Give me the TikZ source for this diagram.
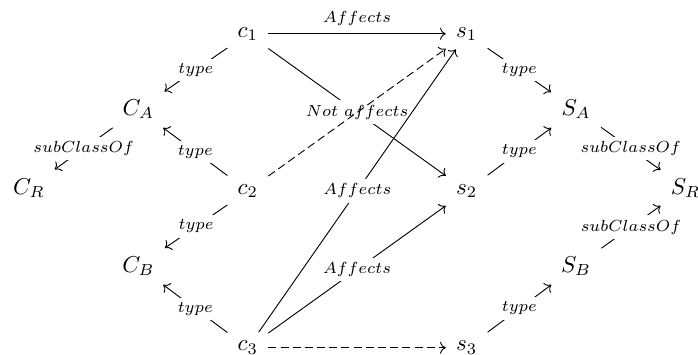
\documentclass[tikz,border=0pt]{standalone}
\usepackage{amsmath,amssymb}
\usepackage{tikz}
\usetikzlibrary{arrows.meta,positioning}

\begin{document}
\begin{tikzpicture}[
  x=1.673cm, y=1.2cm,
  >={To},
  obj/.style={anchor=base, inner xsep=1ex, inner ysep=0.85ex},
  rel/.style={->, line width=0.4pt},
  maybe/.style={rel, dash pattern=on 3.5pt off 1.8pt},
  lbl/.style={fill=white, inner sep=2pt, font=\scriptsize},
]
\useasboundingbox (-0.265,0.472) rectangle (6.114,-4.039);
% classes of causes
\node[obj] (CR) at (0,-2) {$C_R$};
\node[obj] (CA) at (1,-1) {$C_A$};
\node[obj] (CB) at (1,-3) {$C_B$};
% causes
\node[obj] (c1) at (2,0) {$c_1$};
\node[obj] (c2) at (2,-2) {$c_2$};
\node[obj] (c3) at (2,-4) {$c_3$};
% symptoms
\node[obj] (s1) at (4,0) {$s_1$};
\node[obj] (s2) at (4,-2) {$s_2$};
\node[obj] (s3) at (4,-4) {$s_3$};
% classes of symptoms
\node[obj] (SA) at (5,-1) {$S_A$};
\node[obj] (SB) at (5,-3) {$S_B$};
\node[obj] (SR) at (6,-2) {$S_R$};

% type links
\draw[rel] (c1) -- node[lbl] {$type$} (CA);
\draw[rel] (c2) -- node[lbl] {$type$} (CA);
\draw[rel] (c2) -- node[lbl] {$type$} (CB);
\draw[rel] (c3) -- node[lbl] {$type$} (CB);
\draw[rel] (s1) -- node[lbl] {$type$} (SA);
\draw[rel] (s2) -- node[lbl] {$type$} (SA);
\draw[rel] (s3) -- node[lbl] {$type$} (SB);
% subclass links
\draw[rel] (CA) -- node[lbl] {$subClassOf$} (CR);
\draw[rel] (SA) -- node[lbl] {$subClassOf$} (SR);
\draw[rel] (SB) -- node[lbl] {$subClassOf$} (SR);

% effects
\draw[rel] (c1) -- node[above, font=\scriptsize] {$Affects$} (s1);
\draw[rel] (c1) -- node[lbl] {$Not\ affects$} (s2);
\draw[maybe] (c2) -- (s1);
\draw[rel] (c3) -- node[lbl] {$Affects$} (s1);
\draw[rel] (c3) -- node[lbl] {$Affects$} (s2);
\draw[maybe] (c3) -- (s3);
\end{tikzpicture}
\end{document}
